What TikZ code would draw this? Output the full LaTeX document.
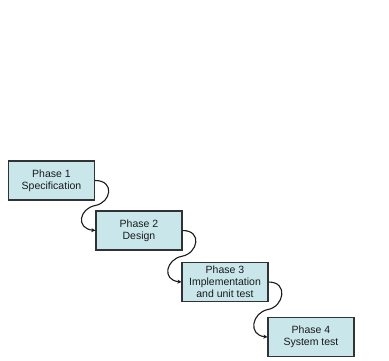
\documentclass[tikz,border=0pt]{standalone}
\usepackage{fontspec}
\setmainfont{Liberation Sans}
\usepackage{tikz}
\usetikzlibrary{arrows.meta,calc}
\definecolor{wfill}{HTML}{C9E7EA}
\definecolor{wedge}{HTML}{2F3336}
\definecolor{wink}{HTML}{1A1A1A}

\begin{document}
\begin{tikzpicture}[x=1pt,y=-1pt,
    phase/.style={draw=wedge,fill=wfill,line width=1.2pt,minimum width=86pt,minimum height=39pt,
      inner sep=1pt,align=center,font=\fontsize{10.5}{12}\selectfont,text=wink},
    flow/.style={draw=wink,line width=1.1pt,-{Stealth[length=4pt,width=4pt]}}]
  \fill[white] (0,0) rectangle (389,360);

  \node[phase] (spec)    at (51.5,180.5) {Phase 1\\Specification};
  \node[phase] (design)  at (139,230.5)  {Phase 2\\Design};
  \node[phase] (impl)    at (225,282)    {Phase 3\\Implementation\\and unit test};
  \node[phase] (systest) at (311,337)    {Phase 4\\System test};

  \foreach \a/\b in {spec/design,impl/systest,design/impl} {
    \coordinate (m) at ($(\a.east)!0.5!(\b.west)$);
    \draw[flow] (\a.east) .. controls +(20,0) and +(16,-3) .. (m)
                          .. controls +(-16,3) and +(-20,-2) .. (\b.west);
  }
\end{tikzpicture}
\end{document}
